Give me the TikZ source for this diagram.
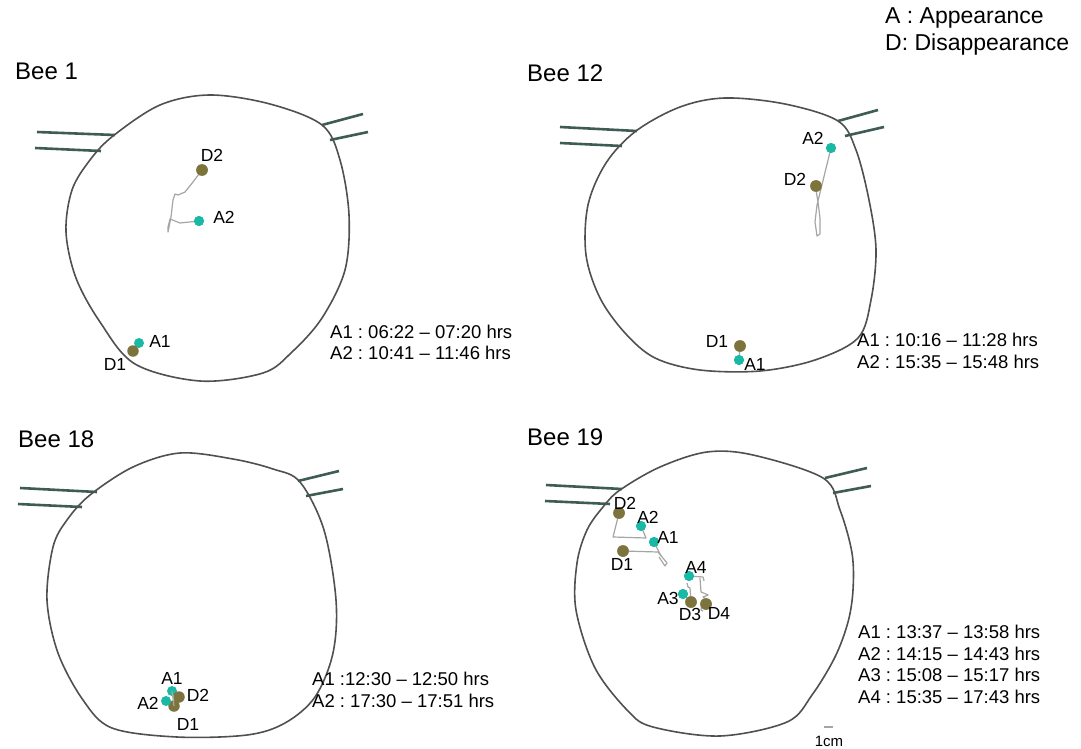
\documentclass[tikz,border=0pt]{standalone}
\usepackage{fontspec}
\setmainfont{Liberation Sans}
\frenchspacing
\definecolor{dishgray}{RGB}{80,80,80}
\definecolor{tubegreen}{RGB}{62,92,86}
\definecolor{appteal}{RGB}{25,185,165}
\definecolor{disolive}{RGB}{125,115,60}
\definecolor{trackgray}{RGB}{165,165,165}
\tikzset{
  dish/.style={draw=dishgray, line width=1.6pt},
  tube/.style={draw=tubegreen, line width=2.6pt},
  adot/.style={circle, fill=appteal, inner sep=0pt, minimum size=10pt},
  ddot/.style={circle, fill=disolive, inner sep=0pt, minimum size=11.5pt},
  track/.style={draw=trackgray, line width=1.2pt, line join=round},
  lbl/.style={font=\fontsize{17.5}{17.5}\selectfont, inner sep=0pt},
  times/.style={font=\fontsize{18.5}{18.5}\selectfont, anchor=west, inner sep=0pt},
  title/.style={font=\fontsize{24}{24}\selectfont, anchor=west, inner sep=0pt},
  legend/.style={font=\fontsize{23}{23}\selectfont, anchor=west, inner sep=0pt},
}
\begin{document}
\begin{tikzpicture}[x=1pt,y=-1pt]
\useasboundingbox (0,0) rectangle (1081,749);

% ---------- legend ----------
\node[legend] (legA) at (885,18) {A : Appearance};
\node[legend] (legD) at (885,45) {D: Disappearance};

% ---------- Bee 1 ----------
\node[title] (t1) at (15,71) {Bee 1};
\draw[tube] (37,132) -- (115,135);
\draw[tube] (35,148) -- (101,151);
\draw[tube] (322,125) -- (363,114);
\draw[tube] (330,140) -- (368,132);
\draw[dish] plot[smooth cycle, tension=0.55] coordinates {
  (113,136) (160,105) (210,95) (270,104) (322,125) (340,160) (349,215)
  (345,270) (322,318) (292,352) (263,373) (200,381) (135,364) (100,322)
  (76,278) (66,232) (72,190) (90,160)};
\node[ddot] (b1d2) at (202,170) {};
\node[adot] (b1a2) at (199,221) {};
\draw[track] (b1d2.center) -- (193,182) -- (185,192) -- (178,195) -- (175,194)
  -- (173,200) -- (171,217) -- (168,232) -- (168,227) -- (170,219) -- (180,223)
  -- (b1a2.center);
\node[adot] at (b1a2) {};
\node[ddot] at (b1d2) {};
\node[adot] (b1a1) at (139,343) {};
\node[ddot] (b1d1) at (133,351) {};
\node[lbl] (b1d2l) at (212,155) {D2};
\node[lbl] (b1a2l) at (224,217) {A2};
\node[lbl] (b1a1l) at (160,341) {A1};
\node[lbl] (b1d1l) at (115,364) {D1};
\node[times] (b1t1) at (330,332) {A1 : 06:22 -- 07:20 hrs};
\node[times] (b1t2) at (330,353) {A2 : 10:41 -- 11:46 hrs};

% ---------- Bee 12 ----------
\node[title] (t12) at (527,73) {Bee 12};
\draw[tube] (560,127) -- (637,131);
\draw[tube] (560,143) -- (622,146);
\draw[tube] (838,121) -- (878,110);
\draw[tube] (845,136) -- (884,127);
\draw[dish] plot[smooth cycle, tension=0.55] coordinates {
  (636,131) (680,107) (725,98) (785,104) (838,121) (856,150) (869,200)
  (876,250) (871,300) (858,338) (815,360) (760,371) (700,370) (655,358)
  (625,333) (600,298) (586,255) (588,205) (606,163)};
\node[adot] (b12a2) at (831,148) {};
\node[ddot] (b12d2) at (816,186) {};
\draw[track] (b12a2.center) -- (817,205) -- (815,222) -- (817,236) -- (820,234)
  -- (820,218) -- (818,202) -- (816,190);
\node[adot] at (b12a2) {};
\node[ddot] at (b12d2) {};
\node[ddot] (b12d1) at (740,346) {};
\node[adot] (b12a1) at (739,360) {};
\draw[track] (b12d1.center) -- (b12a1.center);
\node[ddot] at (b12d1) {};
\node[adot] at (b12a1) {};
\node[lbl] (b12a2l) at (813,138) {A2};
\node[lbl] (b12d2l) at (795,179) {D2};
\node[lbl] (b12d1l) at (717,341) {D1};
\node[lbl] (b12a1l) at (755,364) {A1};
\node[times] (b12t1) at (857,340) {A1 : 10:16 -- 11:28 hrs};
\node[times] (b12t2) at (857,362) {A2 : 15:35 -- 15:48 hrs};

% ---------- Bee 18 ----------
\node[title] (t18) at (18,439) {Bee 18};
\draw[tube] (20,488) -- (97,492);
\draw[tube] (18,504) -- (82,507);
\draw[tube] (298,481) -- (339,471);
\draw[tube] (306,496) -- (343,489);
\draw[dish] plot[smooth cycle, tension=0.55] coordinates {
  (90,495) (133,467) (180,453) (233,459) (273,469) (300,482) (324,530)
  (336,600) (333,653) (315,697) (285,723) (247,735) (177,737) (112,728)
  (83,700) (58,653) (47,600) (53,547) (67,520)};
\node[adot] (b18a1) at (172,691) {};
\node[ddot] (b18d2) at (179,697) {};
\node[ddot] (b18d1) at (174,706) {};
\node[adot] (b18a2) at (166,701) {};
\draw[track] (b18a1.center) -- (b18d1.center);
\node[lbl] (b18a1l) at (172,678) {A1};
\node[lbl] (b18a2l) at (148,703) {A2};
\node[lbl] (b18d2l) at (198,695) {D2};
\node[lbl] (b18d1l) at (188,724) {D1};
\node[times] (b18t1) at (312,679) {A1 :12:30 -- 12:50 hrs};
\node[times] (b18t2) at (312,701) {A2 : 17:30 -- 17:51 hrs};

% ---------- Bee 19 ----------
\node[title] (t19) at (527,437) {Bee 19};
\draw[tube] (546,485) -- (622,489);
\draw[tube] (545,501) -- (610,504);
\draw[tube] (825,478) -- (867,468);
\draw[tube] (833,493) -- (871,486);
\draw[dish] plot[smooth cycle, tension=0.55] coordinates {
  (620,490) (660,467) (707,452) (753,455) (823,478) (840,510) (852,553)
  (853,590) (848,622) (835,657) (812,695) (787,722) (720,736) (653,727)
  (628,711) (595,668) (576,610) (577,563) (587,530) (603,507)};
\node[ddot] (b19d2) at (619,513) {};
\node[adot] (b19a2) at (641,526) {};
\node[adot] (b19a1) at (654,542) {};
\node[ddot] (b19d1) at (623,551) {};
\node[adot] (b19a4) at (689,576) {};
\node[adot] (b19a3) at (683,594) {};
\node[ddot] (b19d3) at (691,602) {};
\node[ddot] (b19d4) at (706,604) {};
\draw[track] (b19d2.center) -- (613,537) -- (646,538) -- (b19a2.center);
\draw[track] (b19d1.center) -- (658,552) -- (667,563) -- (665,566) -- (659,557);
\draw[track] (b19a1.center) -- (661,556);
\draw[track] (b19a4.center) -- (703,577) -- (704,581);
\draw[track] (700,578) -- (701,592) -- (706,594) -- (708,595) -- (703,597)
  -- (707,600) -- (702,601) -- (701,610) -- (703,611);
\draw[track] (687,583) -- (688,587) -- (690,588) -- (b19d3.center);
\foreach \n in {b19d2,b19d1,b19d3,b19d4} \node[ddot] at (\n) {};
\foreach \n in {b19a2,b19a1,b19a4,b19a3} \node[adot] at (\n) {};
\node[lbl] (b19d2l) at (625,503) {D2};
\node[lbl] (b19a2l) at (648,517) {A2};
\node[lbl] (b19a1l) at (668,537) {A1};
\node[lbl] (b19d1l) at (622,564) {D1};
\node[lbl] (b19a4l) at (696,567) {A4};
\node[lbl] (b19a3l) at (668,598) {A3};
\node[lbl] (b19d3l) at (690,614) {D3};
\node[lbl] (b19d4l) at (719,613) {D4};
\node[times] (b19t1) at (858,632) {A1 : 13:37 -- 13:58 hrs};
\node[times] (b19t2) at (858,654) {A2 : 14:15 -- 14:43 hrs};
\node[times] (b19t3) at (858,675) {A3 : 15:08 -- 15:17 hrs};
\node[times] (b19t4) at (858,697) {A4 : 15:35 -- 17:43 hrs};

% ---------- scale bar ----------
\coordinate (barL) at (824,727);
\coordinate (barR) at (833,727);
\draw[draw=trackgray, line width=1.2pt] (barL) -- (barR);
\node[font=\fontsize{15}{15}\selectfont, inner sep=0pt] (barlbl) at (829,741) {1cm};
\end{tikzpicture}
\end{document}
